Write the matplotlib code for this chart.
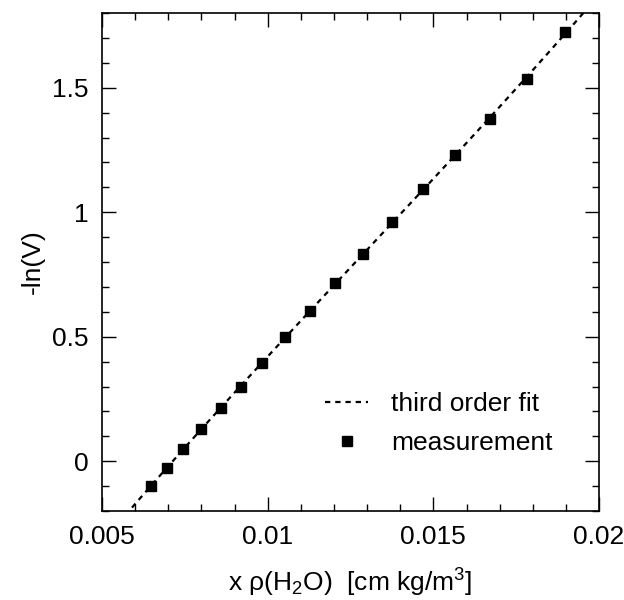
import numpy as np
import matplotlib
matplotlib.use("Agg")
import matplotlib.pyplot as plt
from matplotlib.ticker import MultipleLocator, FuncFormatter

plt.rcParams['font.family'] = ['Liberation Sans', 'DejaVu Sans']
plt.rcParams['mathtext.fontset'] = 'custom'
plt.rcParams['mathtext.rm'] = 'Liberation Sans'
plt.rcParams['mathtext.it'] = 'Liberation Sans'

x_meas = [0.00647, 0.00695, 0.00745, 0.00799, 0.00858, 0.00919, 0.00982, 0.01052,
          0.01128, 0.01204, 0.01288, 0.01375, 0.01468, 0.01566, 0.01671, 0.01782, 0.01898]
y_meas = [-0.099, -0.026, 0.048, 0.128, 0.213, 0.299, 0.393, 0.497,
          0.603, 0.714, 0.834, 0.959, 1.092, 1.230, 1.376, 1.537, 1.723]

# third order fit over the measurements
coef = np.polyfit(x_meas, y_meas, 3)
x_fit = np.linspace(0.0055, 0.0200, 200)
y_fit = np.polyval(coef, x_fit)

fig = plt.figure(figsize=(6.24, 6.0), dpi=100)
ax = fig.add_axes([0.1635, 0.1483, 0.7965, 0.8300])

ax.plot(x_fit, y_fit, color='black', lw=1.6, ls=(0, (2.4, 2.2)), label='third order fit')
ax.plot(x_meas, y_meas, ls='none', marker='s', ms=6.5, color='black', label='measurement')

ax.set_xlim(0.005, 0.02)
ax.set_ylim(-0.2, 1.8)
ax.xaxis.set_major_locator(MultipleLocator(0.005))
ax.xaxis.set_minor_locator(MultipleLocator(0.001))
ax.yaxis.set_major_locator(MultipleLocator(0.5))
ax.yaxis.set_minor_locator(MultipleLocator(0.1))
ax.xaxis.set_major_formatter(FuncFormatter(lambda v, p: f"{v:g}"))
ax.yaxis.set_major_formatter(FuncFormatter(lambda v, p: f"{v:g}"))

ax.tick_params(which='both', direction='in', top=True, right=True, labelsize=19, width=1)
ax.tick_params(which='major', length=10, pad=10)
ax.tick_params(which='minor', length=5)
for s in ax.spines.values():
    s.set_linewidth(1.2)

ax.set_xlabel(r'x ρ(H$_2$O)  [cm kg/m$^3$]', fontsize=19, labelpad=13)
ax.set_ylabel('-ln(V)', fontsize=19, labelpad=5)

ax.legend(loc='lower right', bbox_to_anchor=(0.955, 0.065), frameon=False, fontsize=19,
          handlelength=1.6, handletextpad=0.9, labelspacing=0.55)

fig.savefig('out.png', dpi=100)
